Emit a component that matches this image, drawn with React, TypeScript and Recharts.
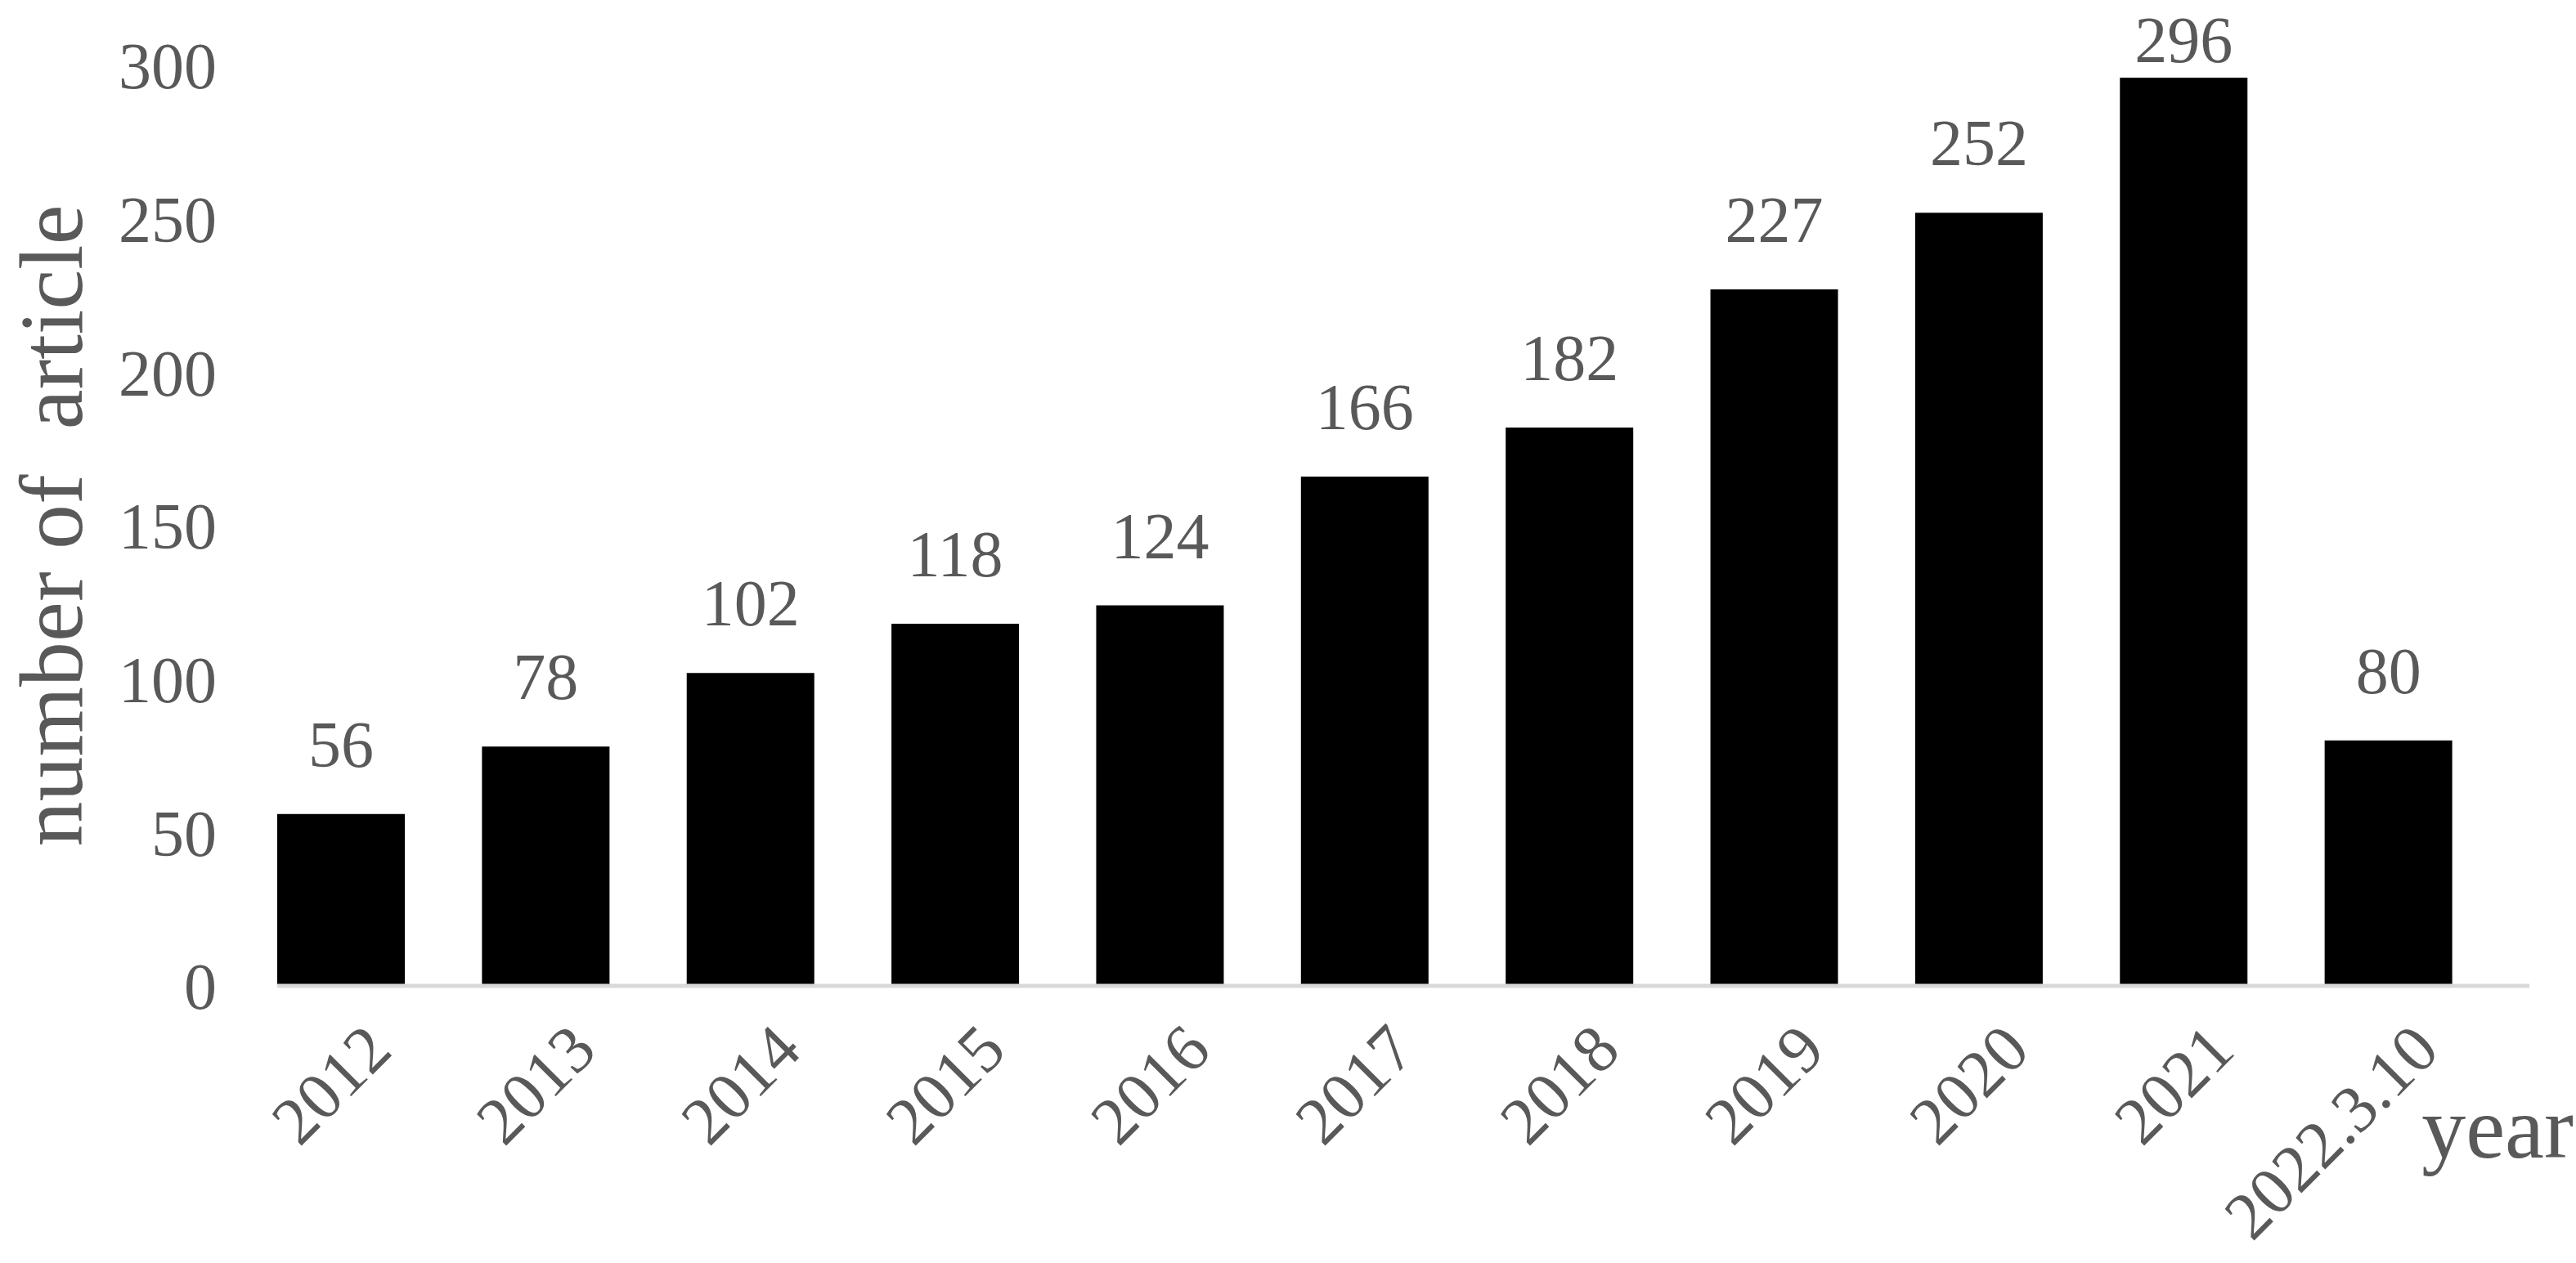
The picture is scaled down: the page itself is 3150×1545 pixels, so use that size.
import React from 'react';
import { BarChart, Bar, XAxis, YAxis, LabelList } from 'recharts';

const years = ['2012', '2013', '2014', '2015', '2016', '2017', '2018', '2019', '2020', '2021', '2022.3.10'];
const articles = [56, 78, 102, 118, 124, 166, 182, 227, 252, 296, 80];
const yTicks = [0, 50, 100, 150, 200, 250, 300];

const FONT = '"Liberation Serif", "Times New Roman", serif';
const GREY = '#595959';

const chartData = years.map((year, i) => ({ year, count: articles[i] }));

const YearTick = (props: any) => {
  const { x, y, payload } = props;
  const ax = x + 65;
  const ay = y + 82;
  return (
    <text
      x={ax}
      y={ay}
      textAnchor="end"
      fill={GREY}
      fontSize={82}
      fontFamily={FONT}
      transform={`rotate(-45, ${ax}, ${ay})`}
    >
      {payload.value}
    </text>
  );
};

const CountLabel = (props: any) => {
  const { x, y, width, value } = props;
  // keep the tallest label inside the chart, like the original does
  const ly = Math.max(y - 58, 76);
  return (
    <text x={x + width / 2} y={ly} textAnchor="middle" fill={GREY} fontSize={80} fontFamily={FONT}>
      {value}
    </text>
  );
};

const YTitle = (props: any) => {
  const { viewBox } = props;
  const cx = 100;
  const cy = viewBox.y + viewBox.height / 2;
  return (
    <text
      x={cx}
      y={cy}
      textAnchor="middle"
      fill={GREY}
      fontSize={110}
      fontFamily={FONT}
      style={{ whiteSpace: 'pre' }}
      transform={`rotate(-90, ${cx}, ${cy})`}
    >
      {'number of  article'}
    </text>
  );
};

const XTitle = (props: any) => {
  const { viewBox } = props;
  return (
    <text
      x={viewBox.x + viewBox.width + 54}
      y={viewBox.y + 210}
      textAnchor="end"
      fill={GREY}
      fontSize={108}
      fontFamily={FONT}
    >
      year
    </text>
  );
};

export default function App() {
  return (
    <div style={{ position: 'absolute', left: 0, top: 0, width: 3150, height: 1545, background: '#fff' }}>
      <BarChart width={3150} height={1545} data={chartData} margin={{ top: 80, right: 57, left: 0, bottom: 0 }}>
        <XAxis
          dataKey="year"
          height={339}
          interval={0}
          tickLine={false}
          tickSize={0}
          tickMargin={0}
          axisLine={{ stroke: '#d9d9d9', strokeWidth: 5 }}
          padding={{ left: -47, right: 47 }}
          tick={<YearTick />}
          label={<XTitle />}
        />
        <YAxis
          width={339}
          domain={[0, 300]}
          ticks={yTicks}
          tickLine={false}
          axisLine={false}
          tickSize={0}
          tickMargin={74}
          tick={{ fill: GREY, fontSize: 80, fontFamily: FONT }}
          label={<YTitle />}
        />
        <Bar dataKey="count" fill="#000000" barSize={156} isAnimationActive={false}>
          <LabelList dataKey="count" content={<CountLabel />} />
        </Bar>
      </BarChart>
    </div>
  );
}
